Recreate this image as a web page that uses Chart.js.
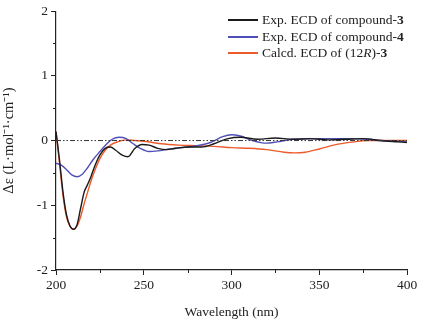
<!DOCTYPE html>
<html><head><meta charset="utf-8">
<script src="https://cdn.jsdelivr.net/npm/chart.js@4/dist/chart.umd.min.js"></script>
<style>
html,body{margin:0;padding:0;background:#fff;}
#wrap{position:relative;width:421px;height:321px;}
#legend{position:absolute;left:228px;top:12px;font-family:"Liberation Serif","Times New Roman",serif;font-size:13.5px;color:#222;}
#legend div{display:flex;align-items:center;white-space:nowrap;height:16px;margin-bottom:0.5px;}
#legend span.l{display:inline-block;width:30px;height:2px;margin-right:4px;}
</style></head>
<body><div id="wrap"><canvas id="c" width="421" height="321"></canvas>
<div id="legend">
<div><span class="l" style="background:#1a1a1a"></span>Exp. ECD of compound-<b>3</b></div>
<div><span class="l" style="background:#4f4fb8"></span>Exp. ECD of compound-<b>4</b></div>
<div><span class="l" style="background:#ee5a2c"></span>Calcd. ECD of (12<i>R</i>)-<b>3</b></div>
</div></div>
<script>
const wlExp3 = [200,202,204,206,208,210,212,214,216,218,220,222,225,228,231,234,238,241,245,249,253,258,263,268,275,283,290,298,305,315,325,335,345,355,365,375,385,395,400];
const exp3   = [0.14,-0.3,-0.8,-1.15,-1.32,-1.37,-1.3,-1.05,-0.8,-0.68,-0.55,-0.4,-0.22,-0.12,-0.1,-0.15,-0.23,-0.25,-0.12,-0.06,-0.07,-0.12,-0.14,-0.12,-0.1,-0.1,-0.05,0.03,0.05,0.02,0.04,0.02,0.03,0.01,0.02,0.03,0.0,-0.02,-0.03];
const wlExp4 = [200,203,206,209,212,215,218,221,225,229,232,236,240,244,248,253,258,265,272,280,288,295,300,305,312,320,326,335,350,365,378,385,392,400];
const exp4   = [-0.35,-0.38,-0.45,-0.53,-0.56,-0.52,-0.42,-0.3,-0.17,-0.05,0.02,0.05,0.03,-0.05,-0.12,-0.17,-0.16,-0.13,-0.11,-0.08,-0.03,0.06,0.09,0.07,0.0,-0.04,-0.02,0.02,0.03,0.03,0.02,0.0,-0.01,-0.02];
const wlCalc = [200,202,204,206,208,210,212,214,216,218,220,222,225,228,231,235,240,245,250,255,260,270,280,290,300,310,320,330,336,342,350,360,370,377,390,400];
const calc   = [0.14,-0.35,-0.85,-1.18,-1.33,-1.37,-1.32,-1.18,-0.98,-0.8,-0.62,-0.47,-0.28,-0.15,-0.07,-0.02,0.01,0.0,-0.01,-0.03,-0.05,-0.07,-0.08,-0.09,-0.11,-0.12,-0.14,-0.18,-0.19,-0.18,-0.13,-0.06,-0.02,0.0,0.0,0.0];
const zeroLine = [[200,0],[400,0]];
const xTicks = [200,250,300,350,400];
const yTicks = [-2,-1,0,1,2];
const xMinor = [225,275,325,375];
const yMinor = [-1.5,-0.5,0.5,1.5];

const pts = (xs, ys) => xs.map((x,i)=>({x:x,y:ys[i]}));
const serif = '"Liberation Serif","Times New Roman",serif';

const minorTicks = {
  id:'minorTicks',
  afterDraw(chart){
    const ctx = chart.ctx, xs = chart.scales.x, ys = chart.scales.y, a = chart.chartArea;
    ctx.save(); ctx.strokeStyle='#222'; ctx.lineWidth=1;
    xMinor.forEach(v=>{const p=Math.round(xs.getPixelForValue(v))+0.5; ctx.beginPath(); ctx.moveTo(p,a.bottom); ctx.lineTo(p,a.bottom+3); ctx.stroke();});
    yMinor.forEach(v=>{const p=Math.round(ys.getPixelForValue(v))+0.5; ctx.beginPath(); ctx.moveTo(a.left,p); ctx.lineTo(a.left-3,p); ctx.stroke();});
    ctx.restore();
  }
};

new Chart(document.getElementById('c'), {
  type:'line',
  data:{datasets:[
    {data:zeroLine.map(p=>({x:p[0],y:p[1]})), borderColor:'#333', borderWidth:1, borderDash:[5,2,1.5,2,1.5,2], pointRadius:0},
    {label:'Exp. ECD of compound-3', data:pts(wlExp3,exp3), borderColor:'#1a1a1a', borderWidth:1.4, pointRadius:0, cubicInterpolationMode:'monotone'},
    {label:'Exp. ECD of compound-4', data:pts(wlExp4,exp4), borderColor:'#4f4fb8', borderWidth:1.4, pointRadius:0, cubicInterpolationMode:'monotone'},
    {label:'Calcd. ECD of (12R)-3', data:pts(wlCalc,calc), borderColor:'#ee5a2c', borderWidth:1.4, pointRadius:0, cubicInterpolationMode:'monotone'}
  ]},
  options:{
    responsive:false, animation:false, devicePixelRatio:1,
    layout:{padding:{top:8,right:14,left:0,bottom:0}},
    plugins:{legend:{display:false}, tooltip:{enabled:false}},
    scales:{
      x:{type:'linear', min:200, max:400,
        afterBuildTicks:s=>{s.ticks=xTicks.map(v=>({value:v}));},
        afterFit:s=>{s.height=51;},
        grid:{drawOnChartArea:false, color:'#222', tickLength:5, tickColor:'#222'},
        border:{color:'#222', width:1.2},
        ticks:{color:'#222', font:{family:serif,size:13.5}, padding:2, maxRotation:0},
        title:{display:true, text:'Wavelength (nm)', color:'#222', font:{family:serif,size:13.5}, padding:{top:2,bottom:0}}
      },
      y:{type:'linear', min:-2, max:2,
        afterBuildTicks:s=>{s.ticks=yTicks.map(v=>({value:v}));},
        afterFit:s=>{s.width=56;},
        grid:{drawOnChartArea:false, color:'#222', tickLength:5, tickColor:'#222'},
        border:{color:'#222', width:1.2},
        ticks:{color:'#222', font:{family:serif,size:13.5}, padding:3},
        title:{display:true, text:'Δε (L·mol⁻¹·cm⁻¹)', color:'#222', font:{family:serif,size:14.5}, padding:{top:0,bottom:3}}
      }
    }
  },
  plugins:[minorTicks]
});
</script></body></html>
